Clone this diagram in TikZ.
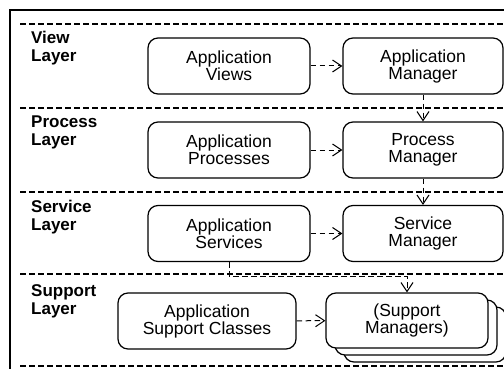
\documentclass[tikz,border=0pt]{standalone}
\usepackage{fontspec}
\setmainfont{Liberation Sans}
\usetikzlibrary{arrows.meta}
\begin{document}
\begin{tikzpicture}[x=1pt,y=-1pt,
  box/.style={draw, line width=1.2pt, rounded corners=10pt, fill=white, align=center,
    inner sep=0pt, font=\fontsize{17.5}{17}\selectfont},
  mgr/.style={box, minimum width=160pt, minimum height=56pt},
  app/.style={box, minimum width=162pt, minimum height=56pt},
  lbl/.style={anchor=base west, align=left, inner sep=0pt, font=\fontsize{17}{18}\selectfont\bfseries},
  sep/.style={line width=1.1pt, dash pattern=on 5.5pt off 3.5pt},
  dep/.style={line width=1pt, dash pattern=on 5.5pt off 3.5pt,
    -{Straight Barb[length=9pt,width=12pt,line width=1pt]}}
]
\clip (0,0) rectangle (504,369);
\fill[white] (0,0) rectangle (504,369);
% outer frame (cropped at right and bottom)
\draw[line width=2pt] (10,400) -- (10,10) -- (540,10);
% layer separators
\foreach \yy in {24,108,192,274,366} \draw[sep] (20,\yy) -- (510,\yy);
% layer labels (base = baseline of the last line)
\node[lbl] (lv) at (31,62) {View\\Layer};
\node[lbl] (lp) at (31,146) {Process\\Layer};
\node[lbl] (ls) at (31,230) {Service\\Layer};
\node[lbl] (lsu) at (31,314) {Support\\Layer};
% boxes
\node[app] (av) at (229,66) {Application\\Views};
\node[mgr] (am) at (423,66) {Application\\Manager};
\node[app] (ap) at (229,150) {Application\\Processes};
\node[mgr] (pm) at (423,150) {Process\\Manager};
\node[app] (as) at (229,233.5) {Application\\Services};
\node[mgr] (sm) at (423,233.5) {Service\\Manager};
\node[box, minimum width=178pt, minimum height=56pt] (asc) at (207,321) {Application\\Support Classes};
\node[box, minimum width=162pt, minimum height=55pt] (sup3) at (425,334.5) {};
\node[box, minimum width=162pt, minimum height=55pt] (sup2) at (416,327.5) {};
\node[box, minimum width=162pt, minimum height=55pt] (sup) at (407,320.5) {(Support\\Managers)};
% dependencies
\draw[dep] (av) -- (am);
\draw[dep] (ap) -- (pm);
\draw[dep] (as) -- (sm);
\draw[dep] (asc) -- (sup);
\draw[dep] (am) -- (pm);
\draw[dep] (pm) -- (sm);
\draw[dep] (as.south) -- ++(0,14) -| (sup.north);
\end{tikzpicture}
\end{document}
